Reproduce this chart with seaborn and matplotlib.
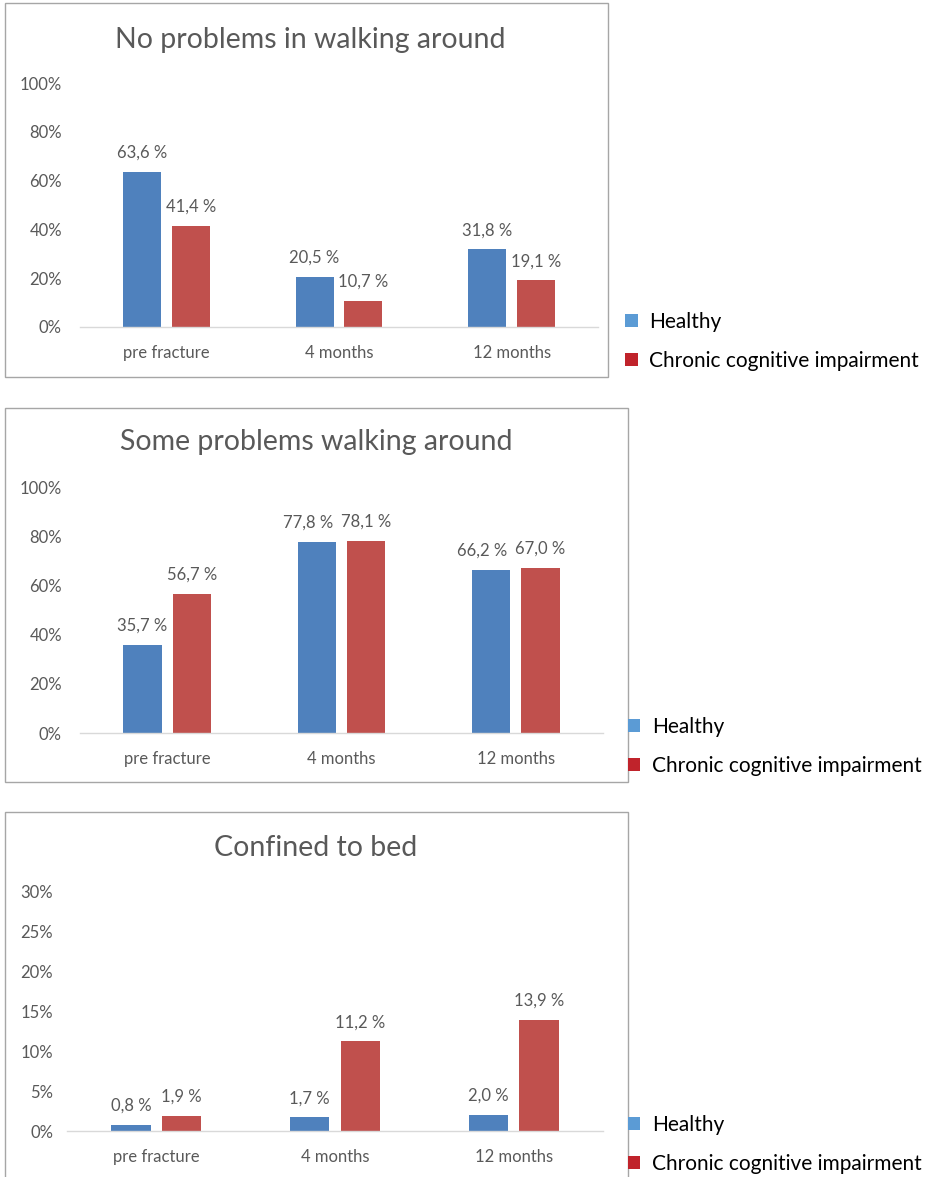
import matplotlib
matplotlib.use("Agg")
import matplotlib.pyplot as plt
import seaborn as sns
import pandas as pd
from matplotlib.patches import Rectangle, Patch
from matplotlib.ticker import FixedLocator

categories = ["pre fracture", "4 months", "12 months"]
groups = ["Healthy", "Chronic cognitive impairment"]
titles = ["No problems in walking around", "Some problems walking around", "Confined to bed"]

healthy_no = [63.6, 20.5, 31.8]
cci_no = [41.4, 10.7, 19.1]
healthy_some = [35.7, 77.8, 66.2]
cci_some = [56.7, 78.1, 67.0]
healthy_bed = [0.8, 1.7, 2.0]
cci_bed = [1.9, 11.2, 13.9]

yticks_walk = [0, 20, 40, 60, 80, 100]
yticks_bed = [0, 5, 10, 15, 20, 25, 30]

sns.set_theme(style="white")
plt.rcParams["font.family"] = ["Lato", "DejaVu Sans"]

W, H = 928, 1177
fig = plt.figure(figsize=(W / 100, H / 100), dpi=100)
fig.patch.set_facecolor("white")

BAR_BLUE = "#4F81BD"
BAR_RED = "#C0504D"
LEG_BLUE = "#5B9BD5"
LEG_RED = "#C0232B"
GRAY_TXT = "#595959"
AXIS_GRAY = "#D9D9D9"
BOX_GRAY = "#A6A6A6"


def fx(x):
    return x / W


def fy(y):
    return 1 - y / H


panels = [
    dict(h=healthy_no, c=cci_no, yt=yticks_walk, box=(5, 3, 608, 377), ax=(80, 83, 598, 327),
         ty=40, tx=310, leg=(625, 312), ticks=True, ypad=13),
    dict(h=healthy_some, c=cci_some, yt=yticks_walk, box=(5, 408, 628, 782), ax=(80, 487, 603, 733),
         ty=442, tx=316, leg=(628, 717), ticks=False, ypad=13),
    dict(h=healthy_bed, c=cci_bed, yt=yticks_bed, box=(5, 812, 628, 1200), ax=(67, 891, 603, 1131),
         ty=848, tx=316, leg=(628, 1115), ticks=False, ypad=10),
]


def fmt(v):
    return f"{v:.1f} %".replace(".", ",")


label_pairs = []
for i, p in enumerate(panels):
    x0, y0, x1, y1 = p["box"]
    fig.patches.append(Rectangle((fx(x0), fy(y1)), fx(x1) - fx(x0), fy(y0) - fy(y1),
                                 transform=fig.transFigure, fill=False,
                                 edgecolor=BOX_GRAY, linewidth=1.0, zorder=0))
    a0, b0, a1, b1 = p["ax"]
    ax = fig.add_axes([fx(a0), fy(b1), fx(a1) - fx(a0), fy(b0) - fy(b1)])
    df = pd.DataFrame({
        "period": categories * 2,
        "value": list(p["h"]) + list(p["c"]),
        "group": [groups[0]] * 3 + [groups[1]] * 3,
    })
    sns.barplot(data=df, x="period", y="value", hue="group", order=categories,
                hue_order=groups, palette=[BAR_BLUE, BAR_RED], width=0.567, gap=0.224,
                saturation=1, linewidth=0, legend=False, ax=ax)
    anns = []
    for cont, vals in zip(ax.containers, [p["h"], p["c"]]):
        anns.append(ax.bar_label(cont, labels=[fmt(v) for v in vals], padding=8,
                                 fontsize=12, color=GRAY_TXT))
    label_pairs.extend(zip(anns[0], anns[1]))
    ax.set_xlim(-0.5, 2.5)
    ax.set_ylim(0, p["yt"][-1])
    ax.set_yticks(p["yt"])
    ax.set_yticklabels([f"{t}%" for t in p["yt"]])
    ax.set_xlabel("")
    ax.set_ylabel("")
    for s in ["top", "right", "left"]:
        ax.spines[s].set_visible(False)
    ax.spines["bottom"].set_color(AXIS_GRAY)
    ax.spines["bottom"].set_linewidth(1.0)
    ax.tick_params(axis="y", length=0, pad=p["ypad"], labelsize=12, labelcolor=GRAY_TXT)
    ax.tick_params(axis="x", which="major", length=0, pad=13, labelsize=12, labelcolor=GRAY_TXT)
    if p["ticks"]:
        ax.xaxis.set_minor_locator(FixedLocator([-0.5, 0.5, 1.5, 2.5]))
        ax.tick_params(axis="x", which="minor", length=5, width=1.0, color=AXIS_GRAY, direction="out")
    ax.set_facecolor("none")
    fig.text(fx(p["tx"]), fy(p["ty"]), titles[i], ha="center", va="center",
             fontsize=20.5, color=GRAY_TXT)
    handles = [Patch(facecolor=LEG_BLUE, edgecolor="none"), Patch(facecolor=LEG_RED, edgecolor="none")]
    lx, ly = p["leg"]
    fig.legend(handles, groups, loc="upper left", bbox_to_anchor=(fx(lx), fy(ly)),
               frameon=False, fontsize=15, handlelength=0.6, handleheight=0.6,
               handletextpad=0.55, labelspacing=0.9, borderaxespad=0, borderpad=0,
               labelcolor="black")

# shift left-hand labels that collide with their neighbour (as the original does)
fig.canvas.draw()
renderer = fig.canvas.get_renderer()
for left, right in label_pairs:
    bl = left.get_window_extent(renderer)
    br = right.get_window_extent(renderer)
    vert_overlap = bl.y1 > br.y0 and br.y1 > bl.y0
    if vert_overlap and bl.x1 + 8 > br.x0:
        shift_px = bl.x1 + 8 - br.x0
        dx, dy = left.xyann
        left.xyann = (dx - shift_px * 72 / fig.dpi, dy)

fig.savefig("out.png", dpi=100, facecolor="white")
